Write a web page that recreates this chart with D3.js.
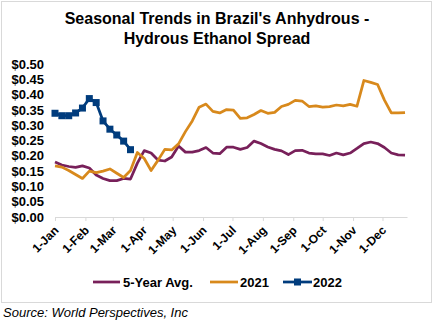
<!DOCTYPE html>
<html><head><meta charset="utf-8">
<script src="https://cdn.jsdelivr.net/npm/d3@7"></script>
<style>body{margin:0;background:#fff}svg{display:block}text{font-family:"Liberation Sans",Arial,sans-serif}</style>
</head><body>
<svg id="c" width="434" height="323"></svg>
<script>
const titleLines = ["Seasonal Trends in Brazil's Anhydrous -", "Hydrous Ethanol Spread"];
const monthLabels = ["1-Jan","1-Feb","1-Mar","1-Apr","1-May","1-Jun","1-Jul","1-Aug","1-Sep","1-Oct","1-Nov","1-Dec"];
const yTicks = [0,0.05,0.10,0.15,0.20,0.25,0.30,0.35,0.40,0.45,0.50];
const seriesNames = ["5-Year Avg.","2021","2022"];
const avg5 = [0.180,0.170,0.165,0.162,0.167,0.160,0.137,0.126,0.119,0.119,0.126,0.124,
  0.176,0.217,0.209,0.186,0.183,0.196,0.232,0.212,0.212,0.217,0.227,0.209,
  0.207,0.228,0.228,0.221,0.227,0.248,0.240,0.229,0.221,0.216,0.204,0.217,
  0.218,0.209,0.206,0.206,0.201,0.209,0.203,0.209,0.224,0.240,0.245,0.240,
  0.227,0.209,0.203,0.202];
const y2021 = [0.167,0.163,0.152,0.139,0.126,0.150,0.145,0.150,0.157,0.143,0.129,0.152,
  0.211,0.191,0.152,0.185,0.221,0.219,0.239,0.279,0.314,0.359,0.369,0.345,
  0.340,0.351,0.349,0.322,0.324,0.335,0.348,0.339,0.342,0.361,0.368,0.381,
  0.379,0.361,0.363,0.359,0.361,0.366,0.363,0.368,0.362,0.446,0.440,0.433,
  0.382,0.340,0.340,0.341];
const y2022 = [0.339,0.331,0.331,0.340,0.356,0.387,0.374,0.314,0.287,0.268,0.248,0.220];
const colors = ["#78205A","#D8891C","#003C7D"];

const start = new Date(2021,0,1);
const weekDate = i => d3.timeDay.offset(start, 7*i);
const svg = d3.select("#c");

svg.append("rect").attr("x",1.5).attr("y",1.5).attr("width",430).attr("height",301)
  .attr("fill","#fff").attr("stroke","#d9d9d9");

svg.selectAll(".title").data(titleLines).enter().append("text")
  .attr("x",217).attr("y",(d,i)=>24+i*20).attr("text-anchor","middle")
  .attr("font-size",16).attr("font-weight","bold").attr("fill","#000").text(d=>d);

const x = d3.scaleTime().domain([start, new Date(2021,11,26)]).range([55,407]);
const y = d3.scaleLinear().domain([0,0.5]).range([217,64]);

// y axis labels
const ya = svg.append("g").attr("transform","translate(44,0)")
  .call(d3.axisLeft(y).tickValues(yTicks).tickSize(0).tickPadding(0).tickFormat(d3.format("$.2f")));
ya.select(".domain").remove();
ya.selectAll("text").attr("font-size",13).attr("font-weight","bold").attr("fill","#000")
  .style("font-family","'Liberation Sans',Arial,sans-serif");

// x axis
const monthTicks = monthLabels.map((d,i)=>new Date(2021,i,1));
const xa = svg.append("g").attr("transform","translate(0,217)")
  .call(d3.axisBottom(x).tickValues(monthTicks).tickSize(4).tickSizeOuter(0)
    .tickFormat((d,i)=>monthLabels[i]));
xa.select(".domain").attr("stroke","#d9d9d9").attr("stroke-width",1);
xa.selectAll(".tick line").attr("stroke","#d9d9d9");
xa.selectAll("text").attr("font-size",12).attr("font-weight","bold").attr("fill","#000")
  .style("font-family","'Liberation Sans',Arial,sans-serif")
  .attr("text-anchor","end").attr("dy",0).attr("y",0)
  .attr("transform","translate(4,14) rotate(-45)");

const line = d3.line().x((d,i)=>x(weekDate(i))).y(d=>y(d));
[avg5,y2021,y2022].forEach((s,k)=>{
  svg.append("path").datum(s).attr("d",line).attr("fill","none")
    .attr("stroke",colors[k]).attr("stroke-width",2.75).attr("stroke-linejoin","round");
});
svg.selectAll(".m").data(y2022).enter().append("rect")
  .attr("x",(d,i)=>x(weekDate(i))-3.5).attr("y",d=>y(d)-3.5)
  .attr("width",7).attr("height",7).attr("fill",colors[2]);

// legend
const lg = [{x:93,w:27,tx:123},{x:210,w:28,tx:240},{x:283,w:29,tx:313}];
lg.forEach((l,k)=>{
  svg.append("line").attr("x1",l.x).attr("x2",l.x+l.w).attr("y1",282).attr("y2",282)
    .attr("stroke",colors[k]).attr("stroke-width",2.75);
  if(k===2) svg.append("rect").attr("x",l.x+l.w/2-3.5).attr("y",278.5).attr("width",7).attr("height",7).attr("fill",colors[k]);
  svg.append("text").attr("x",l.tx).attr("y",286.5).attr("font-size",13).attr("font-weight","bold")
    .attr("fill","#000").text(seriesNames[k]);
});

svg.append("text").attr("x",3).attr("y",317).attr("font-size",13).attr("font-style","italic")
  .attr("fill","#000").text("Source: World Perspectives, Inc");
</script>
</body></html>
